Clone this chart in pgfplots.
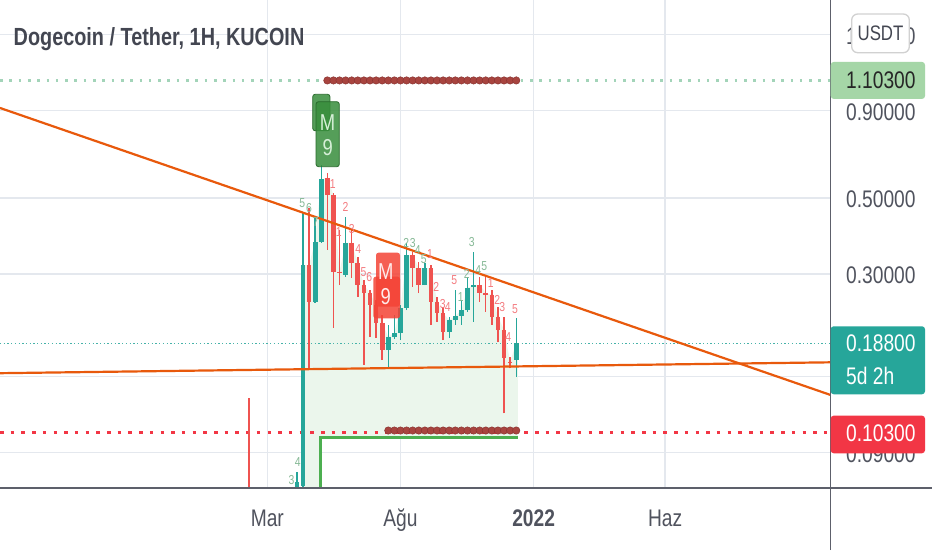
\documentclass[border=0pt]{standalone}
\usepackage{fontspec}
\setmainfont{Liberation Sans}[FakeStretch=0.8]
\usepackage{pgfplots}
\pgfplotsset{compat=1.18}
\definecolor{upc}{HTML}{26A69A}
\definecolor{dnc}{HTML}{EF5350}
\definecolor{gridc}{HTML}{E4E8EE}
\definecolor{axc}{HTML}{50535E}
\definecolor{linec}{HTML}{5D606B}
\definecolor{txtc}{HTML}{434651}
\definecolor{orangec}{HTML}{E8590C}
\definecolor{greenl}{HTML}{4CAF50}
\definecolor{tagg}{HTML}{A5D6A7}
\definecolor{tagr}{HTML}{F23645}
\definecolor{dotg}{HTML}{A3D4B9}
\definecolor{brownc}{HTML}{A8443F}
\definecolor{brownd}{HTML}{8A3431}
\definecolor{fillg}{HTML}{EBF6EC}
\definecolor{cntg}{HTML}{86B996}
\definecolor{cntr}{HTML}{F47C80}
\definecolor{mg}{HTML}{388E3C}
\definecolor{mgd}{HTML}{2A6B2D}
\definecolor{mtg}{HTML}{D6EFD7}
\definecolor{mr}{HTML}{F44336}
\newcommand{\fs}[1]{\fontsize{#1}{#1}\selectfont}
% candle: day, open, high, low, close
\newcommand{\candle}[5]{%
  \pgfmathtruncatemacro\isup{(#5>=#2)?1:0}%
  \ifnum\isup=1\relax\def\cc{upc}\else\def\cc{dnc}\fi
  \edef\tmp{\noexpand\addplot[\cc, line width=1.4pt, forget plot] coordinates {(#1,#4) (#1,#3)};
    \noexpand\addplot[\cc, line width=4.7pt, forget plot] coordinates {(#1,#2) (#1,#5)};}%
  \tmp}
\begin{document}
\begin{tikzpicture}
\useasboundingbox (0,-62pt) rectangle (932pt,488pt);
\fill[white] (0,-62pt) rectangle (932pt,488pt);
\begin{axis}[
  width=830.7pt, height=488pt, scale only axis,
  xmin=-248.1, xmax=706.3,
  ymode=log, ymin=0.07096, ymax=1.896,
  clip mode=individual,
  axis line style={draw=none},
  major tick length=0pt, minor tick length=0pt,
  xmajorgrids, ymajorgrids,
  grid style={gridc, line width=1.3pt},
  xtick={59,212,365,516},
  xticklabels={Mar,Ağu,\textbf{2022},Haz},
  ytick={0.09,0.15,0.3,0.5,0.9,1.5},
  yticklabels={0.09000,0.15000,0.30000,0.50000,0.90000,1.50000},
  yticklabel pos=right,
  yticklabel style={font=\fs{24}, text=axc, anchor=west, inner sep=0pt, xshift=15.3pt, yshift=-1.5pt, text height=17pt, text depth=0pt},
  xticklabel style={font=\fs{24}, text=axc, anchor=north, inner sep=0pt, yshift=-21.5pt, text height=17pt, text depth=5pt},
  /pgf/number format/assume math mode=true,
]
% light green fill
\addplot[fill=fillg, draw=none, forget plot] coordinates {
 (99,0.07096) (99,0.3184) (100,0.3184) (107,0.3184) (114,0.3726) (121,0.5672) (128,0.5722)
 (135,0.5103) (142,0.3044) (149,0.3693) (156,0.3693) (163,0.3227) (170,0.2783)
 (177,0.2638) (184,0.2432) (191,0.2155) (198,0.1961) (205,0.2018) (212,0.2384)
 (219,0.3405) (226,0.3405) (233,0.3120) (240,0.3120) (247,0.3120) (254,0.2488)
 (261,0.2300) (268,0.2199) (275,0.2259) (282,0.2352) (289,0.2728) (296,0.2783)
 (303,0.2783) (310,0.2638) (317,0.2603) (324,0.2248) (331,0.2056) (338,0.1661)
 (345,0.1880) (347,0.1880) (347,0.0995) (119.6,0.0995) (119.6,0.07096)};
% dotted levels
\addplot[dotg, line width=2.6pt, dash pattern=on 2.6pt off 6.7pt, forget plot] coordinates {(-248.1,1.103) (706.3,1.103)};
\addplot[upc!85, line width=1.3pt, dash pattern=on 1.3pt off 2.4pt, forget plot] coordinates {(-248.1,0.188) (706.3,0.188)};
\addplot[tagr, line width=3.5pt, dash pattern=on 3.5pt off 7.2pt, forget plot] coordinates {(-248.1,0.103) (706.3,0.103)};
% green step
\addplot[greenl, line width=3pt, forget plot] coordinates {(119.6,0.06) (119.6,0.0995) (347,0.0995)};
% candles
\candle{38}{0.068}{0.1301}{0.064}{0.066}
\candle{93}{0.0716}{0.0792}{0.0690}{0.0740}
\candle{100}{0.0720}{0.4559}{0.0700}{0.3184}
\candle{107}{0.3184}{0.4674}{0.1571}{0.2488}
\candle{114}{0.2488}{0.4370}{0.2466}{0.3726}
\candle{121}{0.3726}{0.6245}{0.3693}{0.5672}
\candle{128}{0.5722}{0.5918}{0.3523}{0.5103}
\candle{135}{0.5103}{0.5172}{0.2084}{0.3044}
\candle{142}{0.3044}{0.4031}{0.2783}{0.3018}
\candle{149}{0.2978}{0.4408}{0.2944}{0.3693}
\candle{156}{0.3693}{0.4031}{0.2918}{0.3227}
\candle{163}{0.3227}{0.3367}{0.2573}{0.2783}
\candle{170}{0.2783}{0.2878}{0.1625}{0.2638}
\candle{177}{0.2638}{0.2692}{0.1965}{0.2432}
\candle{184}{0.2432}{0.2516}{0.1948}{0.2155}
\candle{191}{0.2155}{0.2274}{0.1680}{0.1797}
\candle{198}{0.1797}{0.2127}{0.1606}{0.1961}
\candle{205}{0.1961}{0.2274}{0.1935}{0.2018}
\candle{212}{0.2018}{0.2432}{0.1922}{0.2384}
\candle{219}{0.2384}{0.3693}{0.2352}{0.3405}
\candle{226}{0.3405}{0.3483}{0.2751}{0.3120}
\candle{233}{0.3120}{0.3256}{0.2633}{0.2783}
\candle{240}{0.2783}{0.3227}{0.2783}{0.3120}
\candle{247}{0.3120}{0.3184}{0.2127}{0.2488}
\candle{254}{0.2488}{0.2573}{0.2174}{0.2300}
\candle{261}{0.2300}{0.2405}{0.1922}{0.2032}
\candle{268}{0.2032}{0.2248}{0.1948}{0.2199}
\candle{275}{0.2199}{0.2692}{0.2127}{0.2259}
\candle{282}{0.2259}{0.2516}{0.2127}{0.2352}
\candle{289}{0.2352}{0.2944}{0.2325}{0.2728}
\candle{296}{0.2751}{0.3483}{0.2174}{0.2783}
\candle{303}{0.2783}{0.2944}{0.2488}{0.2633}
\candle{310}{0.2638}{0.2944}{0.2325}{0.2603}
\candle{317}{0.2603}{0.2692}{0.2127}{0.2248}
\candle{324}{0.2248}{0.2405}{0.1900}{0.2056}
\candle{331}{0.2056}{0.2248}{0.1173}{0.1699}
\candle{338}{0.1661}{0.1718}{0.1589}{0.1643}
\candle{345}{0.1680}{0.2224}{0.1501}{0.1880}
% trend lines
\addplot[orangec, line width=2.2pt, forget plot] coordinates {(-248.1,0.9165) (706.3,0.1327)};
\addplot[orangec, line width=2.2pt, forget plot] coordinates {(-248.1,0.1537) (706.3,0.1654)};
% brown dots
\addplot[only marks, mark=*, mark size=3.7pt, mark options={fill=brownc, draw=brownd, line width=0.5pt}, forget plot] coordinates {
 (128,1.103) (135,1.103) (142,1.103) (149,1.103) (156,1.103) (163,1.103) (170,1.103) (177,1.103)
 (184,1.103) (191,1.103) (198,1.103) (205,1.103) (212,1.103) (219,1.103) (226,1.103) (233,1.103)
 (240,1.103) (247,1.103) (254,1.103) (261,1.103) (268,1.103) (275,1.103) (282,1.103) (289,1.103)
 (296,1.103) (303,1.103) (310,1.103) (317,1.103) (324,1.103) (331,1.103) (338,1.103) (345,1.103)};
\addplot[only marks, mark=*, mark size=3.7pt, mark options={fill=brownc, draw=brownd, line width=0.5pt}, forget plot] coordinates {
 (198,0.1045) (205,0.1045) (212,0.1045) (219,0.1045) (226,0.1045) (233,0.1045) (240,0.1045) (247,0.1045)
 (254,0.1045) (261,0.1045) (268,0.1045) (275,0.1045) (282,0.1045) (289,0.1045) (296,0.1045) (303,0.1045)
 (310,0.1045) (317,0.1045) (324,0.1045) (331,0.1045) (338,0.1045) (345,0.1045)};
% count labels
\tikzset{cnt/.style={font=\fs{13}, inner sep=0pt}}
\node[cnt, text=cntg] at (axis cs:86.9,0.0749) {3};
\node[cnt, text=cntg] at (axis cs:93.9,0.0847) {4};
\node[cnt, text=cntg] at (axis cs:99.2,0.4826) {5};
\node[cnt, text=cntg] at (axis cs:106.9,0.4666) {6};
\node[cnt, text=cntg] at (axis cs:114.6,0.4263) {7};
\node[cnt, text=cntr] at (axis cs:134.1,0.5494) {1};
\node[cnt, text=cntr] at (axis cs:141.0,0.3985) {1};
\node[cnt, text=cntr] at (axis cs:148.9,0.4716) {2};
\node[cnt, text=cntr] at (axis cs:156.0,0.4058) {3};
\node[cnt, text=cntr] at (axis cs:163.6,0.3547) {4};
\node[cnt, text=cntr] at (axis cs:169.5,0.3044) {5};
\node[cnt, text=cntr] at (axis cs:176.2,0.2938) {6};
\node[cnt, text=cntg] at (axis cs:218.7,0.3700) {2};
\node[cnt, text=cntg] at (axis cs:226.1,0.3700) {3};
\node[cnt, text=cntg] at (axis cs:231.8,0.3523) {4};
\node[cnt, text=cntg] at (axis cs:238.7,0.3316) {5};
\node[cnt, text=cntr] at (axis cs:246.0,0.3423) {1};
\node[cnt, text=cntr] at (axis cs:253.2,0.2741) {2};
\node[cnt, text=cntr] at (axis cs:260.5,0.2449) {3};
\node[cnt, text=cntr] at (axis cs:266.3,0.2395) {4};
\node[cnt, text=cntr] at (axis cs:273.9,0.2878) {5};
\node[cnt, text=cntg] at (axis cs:281.2,0.2573) {1};
\node[cnt, text=cntg] at (axis cs:288.1,0.2997) {2};
\node[cnt, text=cntg] at (axis cs:293.9,0.3726) {3};
\node[cnt, text=cntg] at (axis cs:301.4,0.3079) {4};
\node[cnt, text=cntg] at (axis cs:308.3,0.3163) {5};
\node[cnt, text=cntr] at (axis cs:315.7,0.2821) {1};
\node[cnt, text=cntr] at (axis cs:323.2,0.2516) {2};
\node[cnt, text=cntr] at (axis cs:329.0,0.2405) {3};
\node[cnt, text=cntr] at (axis cs:335.9,0.1957) {4};
\node[cnt, text=cntr] at (axis cs:343.6,0.2368) {5};
% M9 green
\draw[fill=mg, fill opacity=0.85, draw=mgd, line width=0.8pt, rounded corners=2.5pt] (axis cs:111.2,1.005) rectangle (axis cs:131.0,0.786);
\draw[fill=mg, fill opacity=0.85, draw=mgd, line width=0.8pt, rounded corners=2.5pt] (axis cs:115.0,0.956) rectangle (axis cs:141.7,0.6173);
\node[text=mtg, font=\fs{23}, inner sep=0pt] at (axis cs:128.3,0.830) {M};
\node[text=mtg, font=\fs{23}, inner sep=0pt] at (axis cs:128.3,0.7035) {9};
% M9 red
\draw[fill=mr, fill opacity=0.85, draw=none, rounded corners=2.5pt] (axis cs:183.9,0.3459) rectangle (axis cs:211.5,0.2405);
\draw[fill=mr, fill opacity=0.85, draw=none, rounded corners=2.5pt] (axis cs:180.8,0.2944) rectangle (axis cs:211.5,0.2224);
\node[text=white!92!red, font=\fs{23}, inner sep=0pt] at (axis cs:195.2,0.3044) {M};
\node[text=white!92!red, font=\fs{23}, inner sep=0pt] at (axis cs:195.2,0.2573) {9};
% price tags
\coordinate (tg) at (axis cs:706.3,1.103);
\coordinate (tt) at (axis cs:706.3,0.188);
\coordinate (tr) at (axis cs:706.3,0.103);
\end{axis}
% title
\node[anchor=base west, font=\fs{24.8}\bfseries, text=txtc, inner sep=0pt] at (13.5pt,442.3pt) {Dogecoin / Tether, 1H, KUCOIN};
% axes lines
\draw[linec, line width=1.5pt] (0,0) -- (932pt,0);
\draw[linec, line width=1.5pt] (830.7pt,-62pt) -- (830.7pt,488pt);
% tags
\fill[tagg, rounded corners=3pt] ([yshift=-18.5pt]tg) rectangle ([xshift=94.3pt,yshift=18.5pt]tg);
\node[anchor=west, font=\fs{24}, text=black!85, inner sep=0pt, text height=17pt, text depth=0pt] at ([xshift=15.3pt]tg) {1.10300};
\fill[upc, rounded corners=3pt] ([yshift=-51pt]tt) rectangle ([xshift=94.3pt,yshift=17pt]tt);
\node[anchor=west, font=\fs{24}, text=white, inner sep=0pt, text height=17pt, text depth=0pt] at ([xshift=15.3pt]tt) {0.18800};
\node[anchor=west, font=\fs{24}, text=white, inner sep=0pt, text height=17pt, text depth=0pt] at ([xshift=15.3pt,yshift=-32.5pt]tt) {5d 2h};
\fill[tagr, rounded corners=3pt] ([yshift=-20.6pt]tr) rectangle ([xshift=94.3pt,yshift=17pt]tr);
\node[anchor=west, font=\fs{24}, text=white, inner sep=0pt, text height=17pt, text depth=0pt] at ([xshift=15.3pt]tr) {0.10300};
% USDT button
\draw[rounded corners=6pt, draw=black!18, fill=white, line width=1.3pt] (851.7pt,474pt) rectangle (909.3pt,435.3pt);
\node[font=\fs{21}, text=txtc, inner sep=0pt] at (880.5pt,454.6pt) {USDT};
\end{tikzpicture}
\end{document}
